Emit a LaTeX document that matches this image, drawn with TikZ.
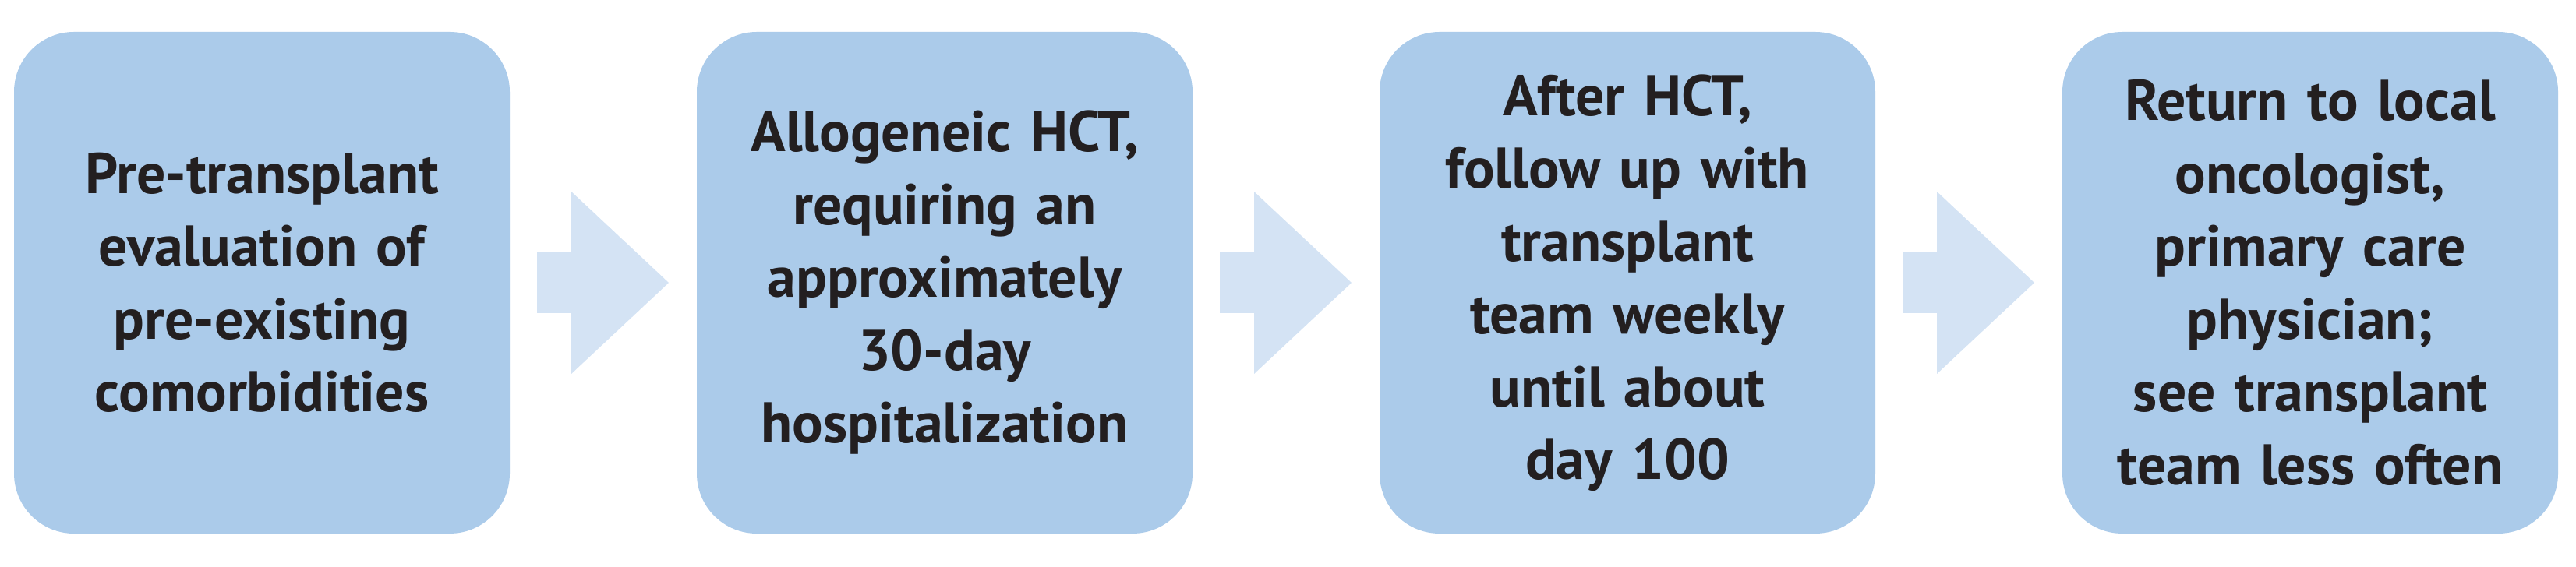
\documentclass[tikz,border=0pt]{standalone}
\usepackage{fontspec}
\setmainfont{PT Sans}
\usetikzlibrary{positioning,calc}
\definecolor{boxblue}{HTML}{ABCBEA}
\definecolor{arrowblue}{HTML}{D4E3F4}
\definecolor{inkblack}{HTML}{231F20}
\tikzset{
  stage/.style={fill=boxblue, rounded corners=0.77cm, minimum width=6.36cm,
    minimum height=6.44cm, text width=6cm, align=center, inner sep=0pt,
    outer sep=0pt, text=inkblack, font=\fontsize{21}{26.6}\selectfont\bfseries},
  flow/.style={fill=arrowblue}
}

\begin{document}
\begin{tikzpicture}
\useasboundingbox (0,0) rectangle (33.05,7.28);
\node[stage] (eval) at (3.36,3.65) {Pre-transplant\\evaluation of\\pre-existing\\comorbidities};
\node[stage, right=2.4cm of eval] (hct) {Allogeneic HCT,\\requiring an\\approximately\\30-day\\hospitalization};
\node[stage, right=2.4cm of hct] (follow) {After HCT,\\follow up with\\transplant\\team weekly\\until about\\day 100};
\node[stage, right=2.4cm of follow] (return) {Return to local\\oncologist,\\primary care\\physician;\\see transplant\\team less often};
\foreach \a/\b in {eval/hct, hct/follow, follow/return}
  \fill[flow] ($(\a.east)+(0.35,0.39)$) -- ++(0.44,0) -- ++(0,0.78)
    -- ($(\b.west)+(-0.36,0)$) -- ($(\a.east)+(0.79,-1.17)$) -- ++(0,0.78)
    -- ++(-0.44,0) -- cycle;
\end{tikzpicture}
\end{document}
